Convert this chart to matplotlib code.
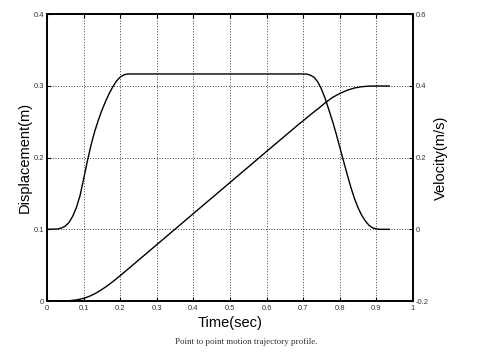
import matplotlib
matplotlib.use("Agg")
import matplotlib.pyplot as plt

# ---- data ----
time_disp = [0.018, 0.04, 0.06, 0.08, 0.09, 0.10, 0.11, 0.12, 0.13, 0.14, 0.15,
             0.16, 0.17, 0.18, 0.19, 0.20, 0.21, 0.22, 0.23, 0.267, 0.30, 0.40,
             0.50, 0.60, 0.69, 0.70, 0.72, 0.74, 0.76, 0.78, 0.80, 0.82, 0.84,
             0.86, 0.88, 0.90, 0.935]
displacement = [0.0, 0.0001, 0.0004, 0.0015, 0.0025, 0.0037, 0.0054, 0.0075, 0.0100,
                0.0129, 0.0161, 0.0195, 0.0232, 0.0271, 0.0312, 0.0354, 0.0397, 0.0440,
                0.0483, 0.0643, 0.0786, 0.122, 0.1653, 0.2087, 0.2475, 0.2515, 0.2600,
                0.2680, 0.2765, 0.2840, 0.2895, 0.2940, 0.2972, 0.2990, 0.2998, 0.300, 0.300]

time_vel = [0.0, 0.03, 0.04, 0.05, 0.06, 0.07, 0.08, 0.09, 0.10, 0.11, 0.12, 0.13,
            0.14, 0.15, 0.16, 0.17, 0.18, 0.19, 0.20, 0.21, 0.22, 0.70, 0.71, 0.72,
            0.73, 0.74, 0.75, 0.76, 0.77, 0.78, 0.79, 0.80, 0.81, 0.82, 0.83, 0.84,
            0.85, 0.86, 0.87, 0.88, 0.89, 0.90, 0.91, 0.935]
velocity = [0.0, 0.001, 0.004, 0.009, 0.019, 0.036, 0.060, 0.093, 0.140, 0.189, 0.234,
            0.272, 0.304, 0.332, 0.357, 0.379, 0.398, 0.414, 0.425, 0.431, 0.4335,
            0.4335, 0.433, 0.430, 0.424, 0.411, 0.391, 0.365, 0.334, 0.302, 0.267,
            0.229, 0.191, 0.154, 0.118, 0.086, 0.060, 0.039, 0.023, 0.011, 0.004,
            0.001, 0.0, 0.0]

x_ticks = [0, 0.1, 0.2, 0.3, 0.4, 0.5, 0.6, 0.7, 0.8, 0.9, 1]
x_ticklabels = ["0", "0.1", "0.2", "0.3", "0.4", "0.5", "0.6", "0.7", "0.8", "0.9", "1"]
left_ticks = [0, 0.1, 0.2, 0.3, 0.4]
left_ticklabels = ["0", "0.1", "0.2", "0.3", "0.4"]
right_ticks = [-0.2, 0, 0.2, 0.4, 0.6]
right_ticklabels = ["-0.2", "0", "0.2", "0.4", "0.6"]

x_label = "Time(sec)"
left_label = "Displacement(m)"
right_label = "Velocity(m/s)"
caption = "Point to point motion trajectory profile."

# ---- figure ----
plt.rcParams["font.family"] = ["Liberation Sans", "DejaVu Sans"]
W, H = 479, 360
fig = plt.figure(figsize=(W / 100, H / 100), dpi=100)
fig.patch.set_facecolor("white")

L, R, T, B = 47, 413, 14.3, 301
ax = fig.add_axes([L / W, 1 - B / H, (R - L) / W, (B - T) / H])
ax2 = ax.twinx()

ax.plot(time_disp, displacement, color="black", lw=1.0, solid_joinstyle="round")
ax2.plot(time_vel, velocity, color="black", lw=1.0, solid_joinstyle="round")

ax.set_xlim(0, 1)
ax.set_ylim(0, 0.4)
ax2.set_ylim(-0.2, 0.6)

ax.set_xticks(x_ticks)
ax.set_xticklabels(x_ticklabels)
ax.set_yticks(left_ticks)
ax.set_yticklabels(left_ticklabels)
ax2.set_yticks(right_ticks)
ax2.set_yticklabels(right_ticklabels)

tick_col = "#333333"
ax.tick_params(axis="x", direction="in", length=3, width=0.8, top=True, bottom=True,
               labelsize=5.5, labelcolor=tick_col, pad=3)
ax.tick_params(axis="y", direction="in", length=3, width=0.8, left=True, right=False,
               labelsize=5.5, labelcolor=tick_col, pad=2)
ax2.tick_params(axis="y", direction="in", length=3, width=0.8, right=True,
                labelsize=5.5, labelcolor=tick_col, pad=2)

ax.grid(True, color="black", linestyle=(0, (1, 2.2)), linewidth=0.6)

for a in (ax, ax2):
    for s in a.spines.values():
        s.set_linewidth(1.2)
        s.set_color("black")

ax.set_xlabel(x_label, fontsize=10.5)
ax.set_ylabel(left_label, fontsize=10.5)
ax2.set_ylabel(right_label, fontsize=10.5)
ax.xaxis.set_label_coords(0.5, (B - 316) / (B - T))
ax.yaxis.set_label_coords((32 - L) / (R - L), 0.5)
ax2.yaxis.set_label_coords((434 - L) / (R - L), 0.5)

fig.text(246 / W, 1 - 342 / H, caption, ha="center", va="center",
         fontsize=6.5, family=["Liberation Serif", "DejaVu Serif"], color="#333333")

fig.savefig("out.png", dpi=100, facecolor="white")
